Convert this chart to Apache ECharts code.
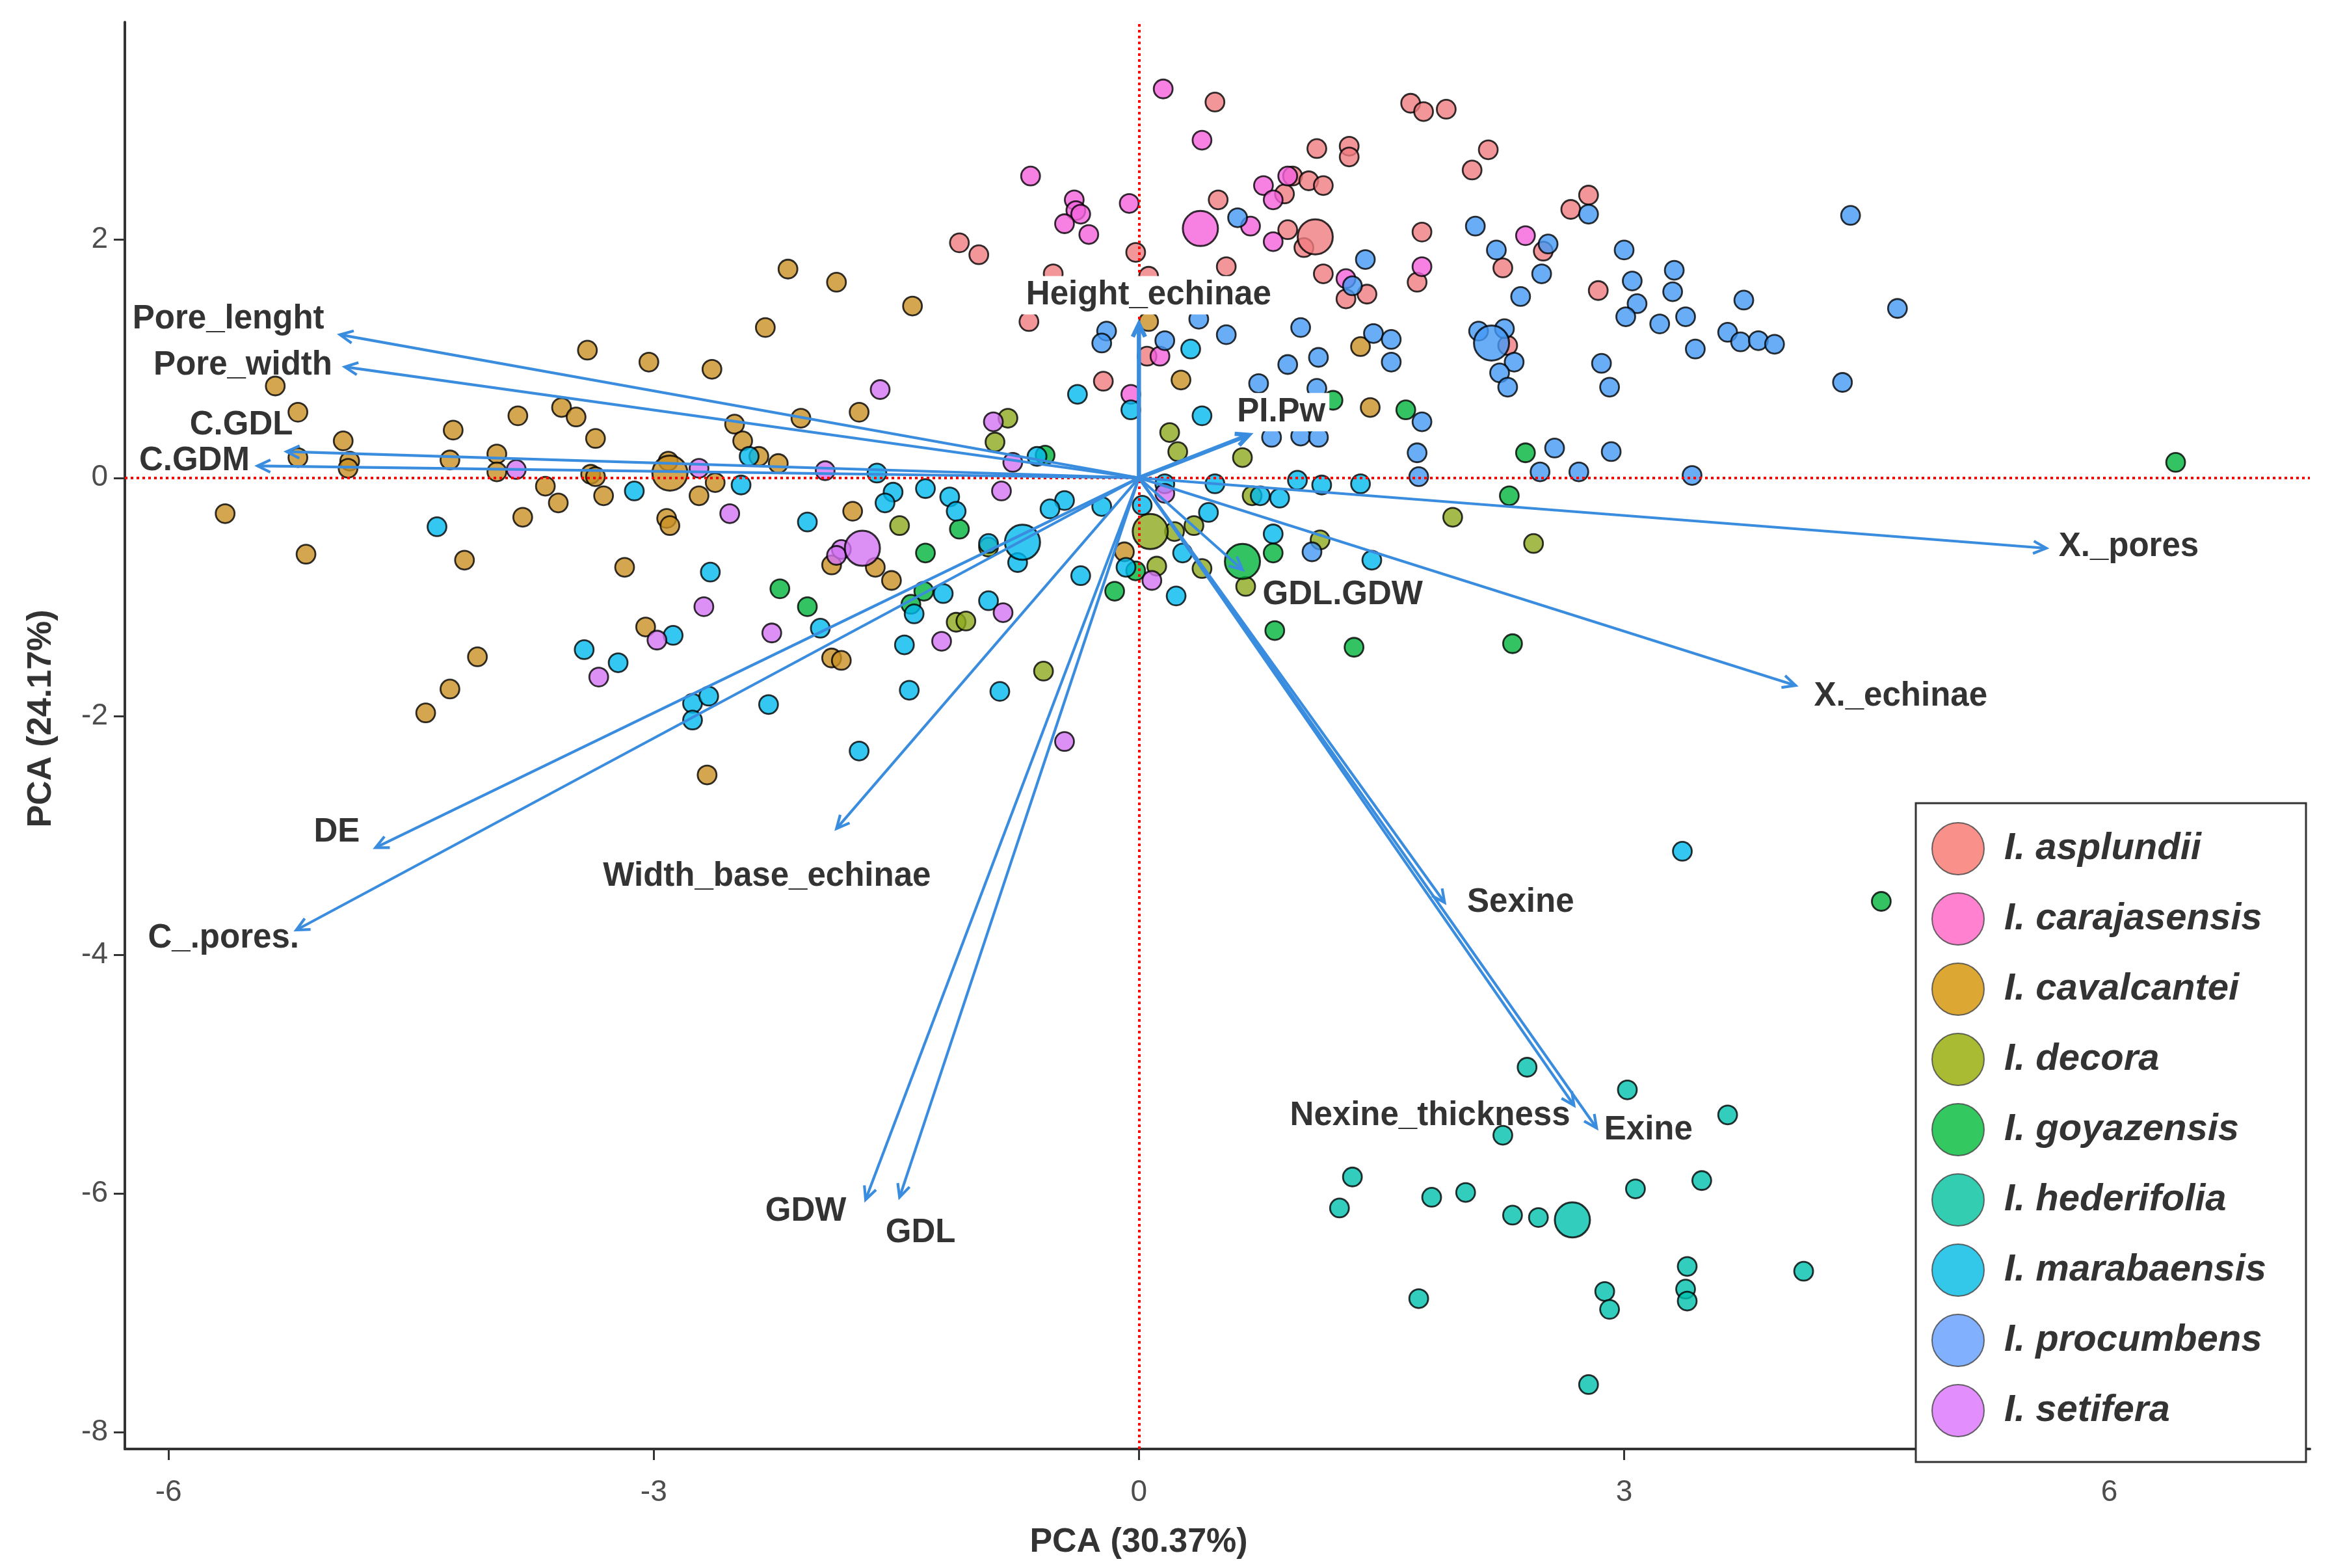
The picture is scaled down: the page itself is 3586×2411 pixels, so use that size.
<!DOCTYPE html>
<html>
<head>
<meta charset="utf-8">
<script src="https://cdn.jsdelivr.net/npm/echarts@6/dist/echarts.min.js"></script>
<style>
html, body { margin: 0; padding: 0; background: #fff; }
#chart { width: 3586px; height: 2411px; }
</style>
</head>
<body>
<div id="chart"></div>
<script>
// species names and colours (legend keys / plotted points)
var speciesNames = ['I. asplundii', 'I. carajasensis', 'I. cavalcantei', 'I. decora', 'I. goyazensis',
    'I. hederifolia', 'I. marabaensis', 'I. procumbens', 'I. setifera'];
var legendColors = ['#F8766D', '#FF61C3', '#D39200', '#93AA00', '#00BA38',
    '#00C19F', '#00B9E3', '#619CFF', '#DB72FB'];
var pointColors = ['#F07C80', '#F462DC', '#C99024', '#8DAA1E', '#00B43C',
    '#00C0AE', '#00B9EE', '#4499F5', '#D373F2'];

// individual scores [PC1, PC2]
var asplundii = [[0.47,3.15],[1.68,3.14],[1.76,3.07],[1.90,3.09],[1.10,2.76],[1.30,2.78],[1.30,2.69],[2.16,2.75],[2.06,2.58],
    [-1.11,1.97],[-0.99,1.87],[-0.02,1.89],[-0.53,1.71],[-0.68,1.31],[0.49,2.33],[0.90,2.38],[0.95,2.53],[1.05,2.49],[1.14,2.45],
    [0.92,2.08],[1.02,1.93],[1.75,2.06],[2.67,2.25],[2.78,2.37],[2.50,1.90],[2.25,1.76],[0.54,1.77],[1.14,1.71],[1.28,1.50],[1.41,1.54],
    [1.72,1.64],[0.06,1.69],[2.84,1.57],[-0.22,0.81],[0.05,1.02],[2.28,1.11]];
var carajasensis = [[0.15,3.26],[0.39,2.83],[-0.67,2.53],[-0.40,2.33],[-0.39,2.24],[-0.36,2.21],[-0.46,2.13],[-0.31,2.04],
    [-0.06,2.30],[0.69,2.11],[0.77,2.45],[0.83,2.33],[0.92,2.53],[0.83,1.98],[2.39,2.03],[1.28,1.67],[1.75,1.77],[0.13,1.02],[-0.05,0.70]];
var cavalcantei = [[-2.17,1.75],[-1.87,1.64],[-1.40,1.44],[-2.31,1.26],[-3.41,1.07],[-3.03,0.97],[-2.64,0.91],[-5.34,0.77],
    [-5.20,0.55],[-3.84,0.52],[-3.57,0.59],[-3.48,0.51],[-4.24,0.40],[-3.36,0.33],[-4.92,0.31],[-5.20,0.17],[-4.88,0.14],[-4.89,0.08],
    [-4.26,0.15],[-3.97,0.20],[-3.97,0.05],[-3.39,0.03],[-3.36,0.01],[-2.91,0.14],[-2.50,0.45],[-2.45,0.31],[-2.35,0.18],[-2.23,0.12],
    [-2.09,0.50],[-3.67,-0.07],[-3.59,-0.21],[-3.31,-0.15],[-2.72,-0.15],[-2.62,-0.04],[-5.65,-0.30],[-3.81,-0.33],[-2.92,-0.34],
    [-2.90,-0.40],[-5.15,-0.64],[-4.17,-0.69],[-3.18,-0.75],[-1.90,-0.73],[-3.05,-1.25],[-1.90,-1.51],[-1.84,-1.53],[-4.09,-1.50],
    [-4.26,-1.77],[-4.41,-1.97],[-2.67,-2.49],[-1.73,0.55],[-1.77,-0.28],[-1.63,-0.75],[-1.53,-0.86],[-0.09,-0.62],[0.06,1.31],
    [0.26,0.82],[1.37,1.10],[1.43,0.59]];
var decora = [[-0.81,0.50],[-0.89,0.30],[0.19,0.38],[0.24,0.22],[0.64,0.17],[-1.48,-0.40],[0.22,-0.45],[0.34,-0.40],[0.11,-0.74],
    [0.39,-0.76],[0.66,-0.91],[1.12,-0.52],[1.94,-0.33],[-1.13,-1.21],[-1.07,-1.20],[-0.59,-1.62],[2.44,-0.55],[0.70,-0.15],[-0.93,-0.58]];
var goyazensis = [[-0.58,0.19],[1.20,0.65],[1.65,0.57],[-1.11,-0.43],[-1.32,-0.63],[-0.02,-0.78],[-0.15,-0.95],[0.83,-0.63],
    [0.84,-1.28],[1.33,-1.42],[-1.33,-0.95],[-1.41,-1.06],[-2.22,-0.93],[-2.05,-1.08],[2.39,0.21],[2.29,-0.15],[6.41,0.13],
    [2.31,-1.39],[4.59,-3.55]];
var hederifolia = [[2.40,-4.94],[3.02,-5.13],[3.64,-5.34],[2.25,-5.51],[1.32,-5.86],[1.24,-6.12],[1.81,-6.03],[2.02,-5.99],
    [2.31,-6.18],[2.47,-6.20],[3.07,-5.96],[3.48,-5.89],[1.73,-6.88],[2.88,-6.82],[2.91,-6.97],[3.39,-6.61],[3.38,-6.80],
    [3.39,-6.90],[4.11,-6.65],[2.78,-7.60]];
var marabaensis = [[0.32,1.08],[-0.38,0.70],[-0.05,0.57],[0.39,0.52],[-0.63,0.18],[-1.62,0.04],[-1.52,-0.12],[-1.57,-0.21],
    [-1.32,-0.09],[-1.17,-0.16],[-1.13,-0.28],[-0.46,-0.19],[-0.55,-0.26],[-0.23,-0.24],[0.16,-0.05],[0.47,-0.05],[0.75,-0.15],
    [0.87,-0.17],[0.98,-0.02],[1.13,-0.06],[1.37,-0.05],[-0.93,-0.55],[-0.75,-0.71],[0.02,-0.23],[0.43,-0.29],[-0.08,-0.75],
    [0.27,-0.63],[0.83,-0.47],[1.44,-0.69],[-0.36,-0.82],[0.23,-0.99],[-1.21,-0.97],[-1.39,-1.14],[-0.93,-1.03],[-1.45,-1.40],
    [-1.42,-1.78],[-0.86,-1.79],[-1.73,-2.29],[-2.41,0.18],[-3.12,-0.11],[-2.46,-0.06],[-2.05,-0.37],[-4.34,-0.41],[-2.65,-0.79],
    [-2.88,-1.32],[-1.97,-1.26],[-3.43,-1.44],[-3.22,-1.55],[-2.76,-1.89],[-2.66,-1.83],[-2.76,-2.03],[-2.29,-1.90],[3.36,-3.13]];
var procumbens = [[0.61,2.18],[2.08,2.11],[2.78,2.21],[2.53,1.96],[2.21,1.91],[2.49,1.71],[2.36,1.52],[1.32,1.61],[1.40,1.83],
    [-0.20,1.23],[-0.23,1.13],[0.16,1.15],[0.37,1.33],[0.54,1.20],[1.00,1.26],[1.11,1.01],[1.45,1.21],[1.56,1.16],[2.10,1.23],
    [2.26,1.25],[2.32,0.97],[1.56,0.97],[0.92,0.95],[3.00,1.91],[3.31,1.74],[3.05,1.65],[3.30,1.56],[3.74,1.49],[3.08,1.46],
    [3.01,1.35],[3.22,1.29],[3.38,1.35],[4.40,2.20],[4.69,1.42],[3.64,1.22],[3.72,1.14],[3.83,1.15],[3.93,1.12],[3.44,1.08],
    [2.23,0.88],[2.28,0.76],[2.86,0.96],[2.91,0.76],[4.35,0.80],[1.75,0.47],[1.72,0.21],[1.73,0.01],[2.57,0.25],[2.92,0.22],
    [2.48,0.05],[2.72,0.05],[3.42,0.02],[0.74,0.79],[1.10,0.75],[0.82,0.34],[1.00,0.35],[1.11,0.34],[1.07,-0.62]];
var setifera = [[-1.60,0.74],[-0.90,0.47],[-0.78,0.13],[-0.85,-0.11],[0.16,-0.13],[-1.84,-0.60],[-1.87,-0.65],[0.08,-0.86],
    [-0.84,-1.13],[-1.22,-1.37],[-0.46,-2.21],[-3.85,0.07],[-2.72,0.08],[-1.94,0.06],[-2.53,-0.30],[-2.69,-1.08],[-2.98,-1.36],
    [-2.27,-1.30],[-3.34,-1.67]];
var speciesPoints = [asplundii, carajasensis, cavalcantei, decora, goyazensis, hederifolia, marabaensis, procumbens, setifera];

// group centroids, same order as speciesNames
var centroids = [[1.09,2.02],[0.38,2.09],[-2.90,0.04],[0.07,-0.45],[0.64,-0.70],[2.68,-6.22],[-0.72,-0.54],[2.18,1.13],[-1.71,-0.59]];

// variable loadings (arrow tips) and label anchors
var varNames = ['Pore_lenght', 'Pore_width', 'C.GDL', 'C.GDM', 'DE', 'C_.pores.', 'Width_base_echinae', 'GDW', 'GDL',
    'Height_echinae', 'PI.Pw', 'GDL.GDW', 'X._pores', 'X._echinae', 'Sexine', 'Nexine_thickness', 'Exine'];
var arrowTips = [[-4.94,1.20],[-4.91,0.93],[-5.27,0.22],[-5.45,0.10],[-4.72,-3.10],[-5.21,-3.79],[-1.87,-2.94],[-1.69,-6.05],
    [-1.48,-6.03],[0.0,1.29],[0.68,0.36],[0.64,-0.77],[5.61,-0.59],[4.06,-1.74],[1.89,-3.56],[2.69,-5.26],[2.83,-5.45]];
var labelPos = [[-5.63,1.33],[-5.54,0.94],[-5.55,0.44],[-5.84,0.14],[-4.96,-2.97],[-5.66,-3.86],[-2.30,-3.34],[-2.06,-6.15],
    [-1.35,-6.33],[0.06,1.53],[0.88,0.55],[1.26,-0.98],[6.12,-0.58],[4.71,-1.83],[2.36,-3.56],[1.80,-5.35],[3.15,-5.47]];
var boxedLabels = ['Height_echinae', 'PI.Pw'];

var xTicks = [-6, -3, 0, 3, 6];
var yTicks = [-8, -6, -4, -2, 0, 2];

var chart = echarts.init(document.getElementById('chart'));
var arrowColor = '#3A8DDE';
var series = [];

speciesNames.forEach(function (name, i) {
    series.push({
        name: name,
        type: 'scatter',
        data: speciesPoints[i],
        symbol: 'circle',
        symbolSize: 29,
        z: 2,
        itemStyle: { color: pointColors[i], borderColor: '#000', borderWidth: 2.8 }
    });
});

series.push({
    name: 'centroid',
    type: 'scatter',
    z: 3,
    symbolSize: 54,
    data: centroids.map(function (c, i) {
        return { value: c, itemStyle: { color: pointColors[i], borderColor: '#000', borderWidth: 3 } };
    })
});

// red dotted reference lines
series.push({
    name: 'ref',
    type: 'scatter',
    data: [],
    z: 4,
    markLine: {
        silent: true,
        symbol: ['none', 'none'],
        label: { show: false },
        lineStyle: { color: '#FF0000', type: [4, 5], width: 4 },
        data: [{ xAxis: 0 }, { yAxis: 0 }]
    }
});

// loading arrows
series.push({
    name: 'arrows',
    type: 'custom',
    z: 5,
    data: arrowTips,
    renderItem: function (params, api) {
        var o = api.coord([0, 0]);
        var t = api.coord([api.value(0), api.value(1)]);
        var ang = Math.atan2(t[1] - o[1], t[0] - o[0]);
        var L = 22, a = Math.PI / 7;
        var p1 = [t[0] - L * Math.cos(ang - a), t[1] - L * Math.sin(ang - a)];
        var p2 = [t[0] - L * Math.cos(ang + a), t[1] - L * Math.sin(ang + a)];
        var w = (params.dataIndex === 9 || params.dataIndex === 10) ? 6.5 : 4.2;
        return {
            type: 'group',
            children: [
                { type: 'line', shape: { x1: o[0], y1: o[1], x2: t[0], y2: t[1] }, style: { stroke: arrowColor, lineWidth: w } },
                { type: 'polyline', shape: { points: [p1, t, p2] }, style: { stroke: arrowColor, lineWidth: w, fill: null } }
            ]
        };
    }
});

// variable labels
series.push({
    name: 'varLabels',
    type: 'custom',
    z: 7,
    data: labelPos.map(function (p, i) { return { name: varNames[i], value: p }; }),
    renderItem: function (params, api) {
        var p = api.coord([api.value(0), api.value(1)]);
        var name = varNames[params.dataIndex];
        var style = {
            text: name,
            fill: '#333',
            font: 'bold 51px "Liberation Sans", Arial, sans-serif',
            align: 'center',
            verticalAlign: 'middle'
        };
        if (boxedLabels.indexOf(name) >= 0) {
            style.backgroundColor = '#fff';
            style.padding = [4, 6];
        }
        return { type: 'text', x: p[0], y: p[1], style: style };
    }
});

var option = {
    animation: false,
    backgroundColor: '#fff',
    textStyle: { fontFamily: 'Liberation Sans' },
    grid: { left: 192, right: 34, top: 34, bottom: 183, containLabel: false },
    legend: {
        orient: 'vertical',
        left: 2946,
        top: 1235,
        padding: [29, 61, 38, 24],
        itemWidth: 80,
        itemHeight: 80,
        itemGap: 26,
        icon: 'circle',
        selectedMode: false,
        borderColor: '#333',
        borderWidth: 3,
        backgroundColor: '#fff',
        itemStyle: { borderColor: '#444', borderWidth: 2 },
        textStyle: { fontSize: 58, fontWeight: 'bold', fontStyle: 'italic', color: '#333',
            fontFamily: 'Liberation Sans', padding: [0, 0, 0, 26] },
        data: speciesNames.map(function (n, i) {
            return { name: n, itemStyle: { color: legendColors[i] } };
        })
    },
    xAxis: {
        type: 'value',
        min: -6.27,
        max: 7.24,
        name: 'PCA (30.37%)',
        nameLocation: 'middle',
        nameGap: 118,
        nameTextStyle: { fontSize: 52, fontWeight: 'bold', color: '#333', padding: [0, 242, 0, 0] },
        splitLine: { show: false },
        axisLine: { show: true, onZero: false, lineStyle: { color: '#333', width: 4 } },
        axisTick: { show: true, customValues: xTicks, length: 17, lineStyle: { color: '#333', width: 3 } },
        axisLabel: { customValues: xTicks, fontSize: 46, color: '#4d4d4d', margin: 44 }
    },
    yAxis: {
        type: 'value',
        min: -8.14,
        max: 3.82,
        name: 'PCA (24.17%)',
        nameLocation: 'middle',
        nameGap: 102,
        nameTextStyle: { fontSize: 52, fontWeight: 'bold', color: '#333', padding: [0, 0, 0, 52] },
        splitLine: { show: false },
        axisLine: { show: true, onZero: false, lineStyle: { color: '#333', width: 4 } },
        axisTick: { show: true, customValues: yTicks, length: 17, lineStyle: { color: '#333', width: 3 } },
        axisLabel: { customValues: yTicks, fontSize: 46, color: '#4d4d4d', margin: 26 }
    },
    series: series
};

chart.setOption(option);
window.addEventListener('resize', function () {
    chart.resize();
});
</script>
</body>
</html>
